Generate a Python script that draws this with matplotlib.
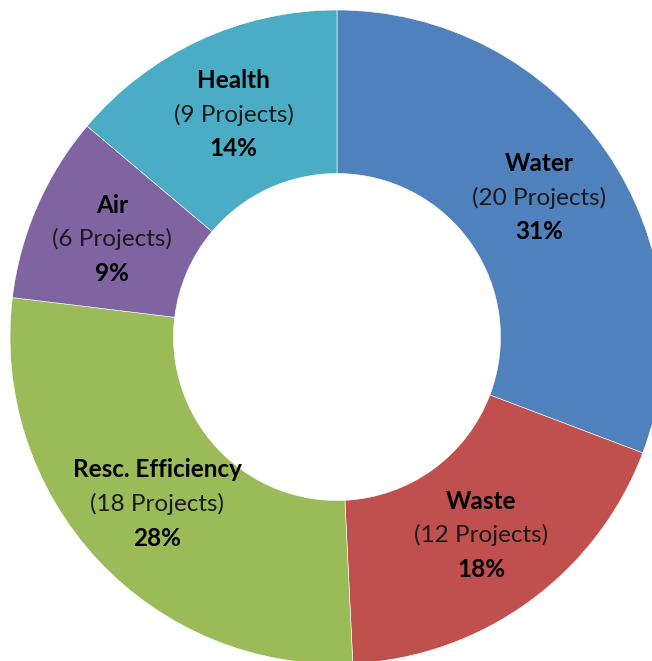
import numpy as np
import matplotlib
matplotlib.use('Agg')
import matplotlib.pyplot as plt

# --- данные ---
categories = ['Water', 'Waste', 'Resc. Efficiency', 'Air', 'Health']
projects = [20, 12, 18, 6, 9]
percents = ['31%', '18%', '28%', '9%', '14%']
colors = ['#4F81BD', '#C0504D', '#9BBB59', '#8064A2', '#4BACC6']

plt.rcParams['font.family'] = ['Lato', 'DejaVu Sans']

fig = plt.figure(figsize=(6.52, 6.61), dpi=100)
ax = fig.add_axes([0, 0, 1, 1])

wedges, _ = ax.pie(projects, colors=colors, startangle=90, counterclock=False,
                   radius=1.0, wedgeprops=dict(width=0.5, edgecolor='white', linewidth=0.4))

# подписи в середине кольца
fs = 17.5
for i, w in enumerate(wedges):
    mid = np.deg2rad((w.theta1 + w.theta2) / 2)
    x, y = 0.75 * np.cos(mid), 0.75 * np.sin(mid)
    ax.annotate(categories[i], (x, y), xytext=(0, 24.5), textcoords='offset points',
                ha='center', va='center', fontsize=fs, fontweight='bold', color='black')
    ax.annotate(f'({projects[i]} Projects)', (x, y), ha='center', va='center',
                fontsize=fs, color='#1a1a1a')
    ax.annotate(percents[i], (x, y), xytext=(0, -24.5), textcoords='offset points',
                ha='center', va='center', fontsize=fs, fontweight='bold', color='black')

# обрезка как на исходной картинке
ax.set_aspect('auto')
ax.set_xlim(-337 / 327, (652 - 337) / 327)
ax.set_ylim((337 - 661) / 327, 337 / 327)
ax.axis('off')

fig.savefig('out.png', dpi=100)
plt.close(fig)
